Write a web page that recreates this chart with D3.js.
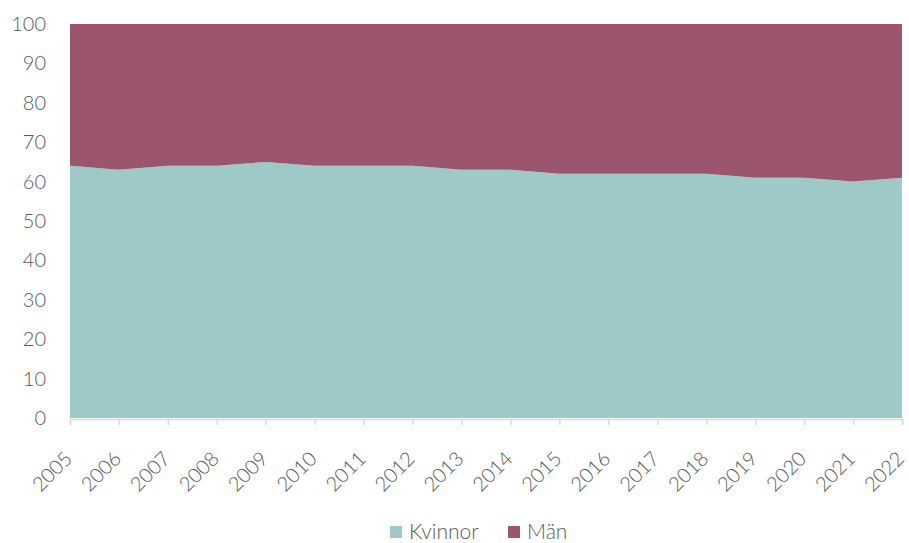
<!DOCTYPE html>
<html>
<head>
<meta charset="utf-8">
<script src="https://cdn.jsdelivr.net/npm/d3@7"></script>
<style>
  body { margin: 0; background: #fff; }
  svg text { font-family: Lato, "Open Sans", sans-serif; font-weight: 300; fill: #595959; }
</style>
</head>
<body>
<svg id="chart" width="909" height="543"></svg>
<script>
// data
var years = [2005, 2006, 2007, 2008, 2009, 2010, 2011, 2012, 2013, 2014, 2015, 2016, 2017, 2018, 2019, 2020, 2021, 2022];
var kvinnor = [64, 63, 64, 64, 65, 64, 64, 64, 63, 63, 62, 62, 62, 62, 61, 61, 60, 61];
var man = kvinnor.map(function(v) { return 100 - v; });
var seriesNames = ["Kvinnor", "Män"];
var seriesColors = ["#9fc9c9", "#9b566e"];
var yTicks = [0, 10, 20, 30, 40, 50, 60, 70, 80, 90, 100];

var svg = d3.select("#chart");
var margin = {left: 70, right: 7, top: 24, bottom: 125};
var width = 909 - margin.left - margin.right,
    height = 543 - margin.top - margin.bottom;

var x = d3.scaleLinear().domain([years[0], years[years.length - 1]]).range([0, width]);
var y = d3.scaleLinear().domain([0, 100]).range([height, 0]);

var g = svg.append("g").attr("transform", "translate(" + margin.left + "," + margin.top + ")");

var rows = years.map(function(yr, i) { return {year: yr, Kvinnor: kvinnor[i], "Män": man[i]}; });
var stacked = d3.stack().keys(seriesNames)(rows);

var area = d3.area()
    .x(function(d) { return x(d.data.year); })
    .y0(function(d) { return y(d[0]); })
    .y1(function(d) { return y(d[1]); });

g.selectAll("path.area")
    .data(stacked)
    .enter().append("path")
    .attr("class", "area")
    .attr("fill", function(d, i) { return seriesColors[i]; })
    .attr("d", area);

// y axis labels
var yAxis = g.append("g")
    .call(d3.axisLeft(y).tickValues(yTicks).tickSize(0).tickPadding(24));
yAxis.select(".domain").remove();
yAxis.selectAll("text").attr("font-size", 20).style("font-family", null);

// x axis
var xAxis = g.append("g")
    .attr("transform", "translate(0," + (height + 1) + ")")
    .call(d3.axisBottom(x).tickValues(years).tickFormat(d3.format("d")).tickSize(6).tickPadding(4));
xAxis.select(".domain").attr("stroke", "#d9d9d9").attr("stroke-width", 1.5);
xAxis.selectAll(".tick line").attr("stroke", "#d9d9d9").attr("stroke-width", 1.5);
xAxis.selectAll("text")
    .attr("font-size", 20)
    .style("font-family", null)
    .attr("text-anchor", "end")
    .attr("x", 0)
    .attr("y", 0)
    .attr("dy", "0.35em")
    .attr("transform", "translate(-2,36) rotate(-45)");

// legend
var legend = svg.append("g").attr("transform", "translate(390,532)");
var legendX = [0, 118];
seriesNames.forEach(function(name, i) {
    var item = legend.append("g").attr("transform", "translate(" + legendX[i] + ",0)");
    item.append("rect").attr("x", 0).attr("y", -6).attr("width", 12).attr("height", 12)
        .attr("fill", seriesColors[i]);
    item.append("text").attr("x", 19).attr("y", 0).attr("dy", "0.35em")
        .attr("font-size", 21).text(name);
});
</script>
</body>
</html>
